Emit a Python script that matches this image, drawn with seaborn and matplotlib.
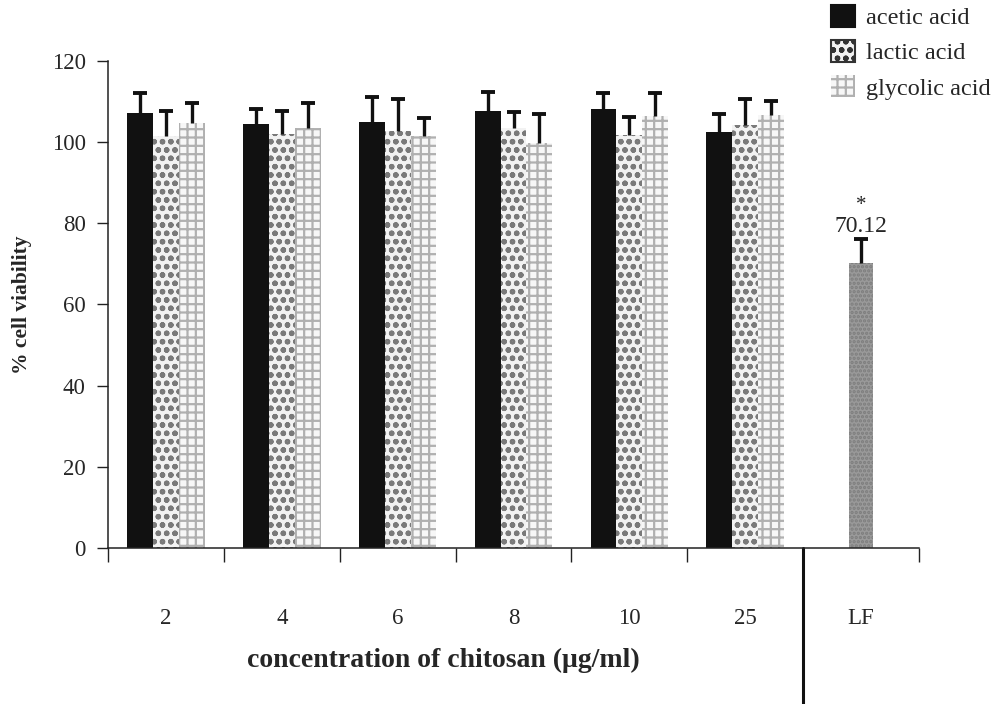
import numpy as np
import pandas as pd
import matplotlib
matplotlib.use("Agg")
import matplotlib.pyplot as plt
from matplotlib.patches import Patch
import seaborn as sns

# Chitosan concentrations (µg/ml) and the solvent acids
concentrations = ["2", "4", "6", "8", "10", "25"]
acids = ["acetic acid", "lactic acid", "glycolic acid"]

# Mean % cell viability for each acid
acetic_mean = [107.1, 104.4, 104.9, 107.7, 108.1, 102.5]
lactic_mean = [101.5, 102.0, 102.7, 103.4, 101.7, 104.2]
glycolic_mean = [104.8, 103.4, 101.5, 99.7, 106.4, 106.7]

# Standard deviations (drawn upward only)
acetic_sd = [5.0, 3.7, 6.1, 4.7, 4.0, 4.3]
lactic_sd = [6.2, 5.6, 7.8, 4.1, 4.4, 6.4]
glycolic_sd = [4.9, 6.1, 4.3, 7.1, 5.6, 3.5]

# Positive control
lf_label = "LF"
lf_mean = 70.12
lf_sd = 6.1

yticks = [0, 20, 40, 60, 80, 100, 120]

df = pd.DataFrame({
    "conc": concentrations * 3,
    "acid": np.repeat(acids, len(concentrations)),
    "viability": acetic_mean + lactic_mean + glycolic_mean,
})
sds = {"acetic acid": acetic_sd, "lactic acid": lactic_sd, "glycolic acid": glycolic_sd}

sns.set_theme(style="ticks")
plt.rcParams["font.family"] = ["Liberation Serif", "DejaVu Serif"]
plt.rcParams["hatch.linewidth"] = 1.6

fig = plt.figure(figsize=(10, 7.04), dpi=100)
ax = fig.add_axes([0.108, 0.2216, 0.811, 0.692])

order = concentrations + [lf_label]
styles = {
    "acetic acid": dict(facecolor="#111111", edgecolor="#111111", hatch=None),
    "lactic acid": dict(facecolor="#f2f2f2", edgecolor="#7a7a7a", hatch="oo"),
    "glycolic acid": dict(facecolor="#f7f7f7", edgecolor="#b0b0b0", hatch="++"),
}


def upper_errorbar(xs, ys, err):
    """Error bar drawn only above the bar, with a single cap on top."""
    _, caps, _ = ax.errorbar(xs, ys, yerr=[np.zeros(len(err)), err], fmt="none",
                             ecolor="#111111", elinewidth=2.4, capsize=5,
                             capthick=2.8, zorder=3)
    caps[0].set_visible(False)


sns.barplot(data=df, x="conc", y="viability", hue="acid", order=order,
            hue_order=acids, width=0.67, errorbar=None, legend=False,
            palette=["#111111", "#f2f2f2", "#f7f7f7"], ax=ax, saturation=1)

for container, acid in zip(ax.containers, acids):
    st = styles[acid]
    xs, hs = [], []
    for bar in container:
        bar.set_facecolor(st["facecolor"])
        bar.set_edgecolor(st["edgecolor"])
        bar.set_linewidth(0)
        if st["hatch"]:
            bar.set_hatch(st["hatch"])
        xs.append(bar.get_x() + bar.get_width() / 2)
        hs.append(bar.get_height())
    err = sds[acid]
    upper_errorbar(xs[:len(err)], hs[:len(err)], err)

# LF control bar
lf_x = order.index(lf_label)
ax.bar(lf_x, lf_mean, width=0.2, facecolor="#9a9a9a", edgecolor="#7d7d7d",
       linewidth=0, hatch="....")
upper_errorbar([lf_x], [lf_mean], [lf_sd])
ax.annotate(f"{lf_mean:.2f}", (lf_x, lf_mean + lf_sd), xytext=(0, 1),
            textcoords="offset points", ha="center", va="bottom", fontsize=17)
ax.annotate("*", (lf_x, lf_mean + lf_sd), xytext=(0, 17),
            textcoords="offset points", ha="center", va="bottom", fontsize=15)

# Axes styling
ax.set_xlim(-0.5, len(order) - 0.5)
ax.set_ylim(0, 120)
ax.set_yticks(yticks)
ax.set_yticklabels([str(t) for t in yticks], fontsize=16.5)
ax.tick_params(axis="y", length=8, width=1, direction="out", pad=8, color="#222222")
ax.set_xticks(range(len(order)))
ax.set_xticklabels(order, fontsize=16.5)
ax.tick_params(axis="x", which="major", length=0, pad=43)
ax.set_xticks(np.arange(-0.5, len(order), 1.0), minor=True)
ax.tick_params(axis="x", which="minor", length=10, width=1, direction="out",
               color="#222222")
sns.despine(ax=ax)
for side in ["left", "bottom"]:
    ax.spines[side].set_color("#222222")
    ax.spines[side].set_linewidth(1.1)

ax.set_ylabel("% cell viability", fontsize=15.5, fontweight="bold", labelpad=14)
ax.set_xlabel("concentration of chitosan (\u03bcg/ml)", fontsize=20,
              fontweight="bold")
ax.xaxis.set_label_coords(0.413, -0.205)

# Divider between chitosan groups and the LF control
ax.plot([lf_x - 0.5, lf_x - 0.5], [0, -0.33], color="#111111", lw=2.2,
        transform=ax.get_xaxis_transform(), clip_on=False)

# Legend
handles = [Patch(facecolor=styles[a]["facecolor"], edgecolor=styles[a]["edgecolor"],
                 hatch=styles[a]["hatch"], linewidth=1.5 if a != "glycolic acid" else 0)
           for a in acids]
handles[0].set_edgecolor("#111111")
handles[1].set_edgecolor("#333333")
fig.legend(handles, acids, loc="upper right", bbox_to_anchor=(1.003, 1.01),
           frameon=False, fontsize=17.5, handlelength=1.0, handleheight=1.0,
           handletextpad=0.45, labelspacing=0.45, borderaxespad=0.1)

fig.savefig("out.png", dpi=100, facecolor="white")
